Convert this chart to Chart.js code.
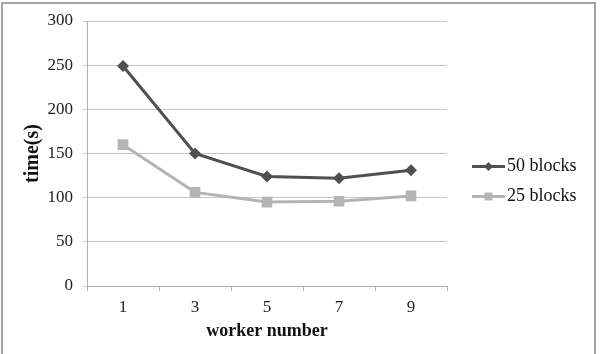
<!DOCTYPE html>
<html><head><meta charset="utf-8">
<script src="https://cdn.jsdelivr.net/npm/chart.js@4/dist/chart.umd.min.js"></script>
<style>
html,body{margin:0;padding:0;background:#fff;overflow:hidden}
#wrap{position:absolute;left:0;top:0;width:601px;height:354px;}
#frame{position:absolute;left:1px;top:2px;width:595px;height:370px;border:2px solid #a3a3a3;border-bottom:none;box-sizing:border-box;}
canvas{position:absolute;left:0;top:0}
</style></head><body>
<div id="wrap"><div id="frame"></div><canvas id="c" width="601" height="354"></canvas></div>
<script>
const categories = ['1', '3', '5', '7', '9'];
const blocks50 = [249, 150, 124, 122, 131];
const blocks25 = [160, 106, 95, 96, 102];
const seriesNames = ['50 blocks', '25 blocks'];
const yTicks = [0, 50, 100, 150, 200, 250, 300];

const FONT = "'Liberation Serif', 'Times New Roman', serif";
const DARK = '#505050';
const LIGHT = '#b4b4b4';

const legendPlugin = {
  id: 'sideLegend',
  afterDraw(chart) {
    const ctx = chart.ctx;
    const ca = chart.chartArea;
    const mid = (ca.top + ca.bottom) / 2;
    const x0 = ca.right + 25, x1 = x0 + 33;
    chart.data.datasets.forEach((ds, i) => {
      const y = mid + 13 + i * 30;
      ctx.save();
      ctx.strokeStyle = ds.borderColor;
      ctx.lineWidth = 3;
      ctx.beginPath(); ctx.moveTo(x0, y); ctx.lineTo(x1, y); ctx.stroke();
      ctx.fillStyle = ds.pointBackgroundColor;
      ctx.strokeStyle = ds.pointBorderColor;
      Chart.helpers.drawPoint(ctx, {pointStyle: ds.pointStyle, radius: ds.pointRadius * 0.75, borderWidth: 0, rotation: 0}, (x0 + x1) / 2, y);
      ctx.fillStyle = '#111';
      ctx.font = '18px ' + FONT;
      ctx.textBaseline = 'middle';
      ctx.textAlign = 'left';
      ctx.fillText(ds.label, x1 + 2, y);
      ctx.restore();
    });
  }
};

new Chart(document.getElementById('c'), {
  type: 'line',
  data: {
    labels: categories,
    datasets: [
      {label: seriesNames[0], data: blocks50, borderColor: DARK, backgroundColor: DARK,
       pointBackgroundColor: DARK, pointBorderColor: DARK, borderWidth: 3,
       pointStyle: 'rectRot', pointRadius: 6, pointBorderWidth: 0, tension: 0},
      {label: seriesNames[1], data: blocks25, borderColor: LIGHT, backgroundColor: LIGHT,
       pointBackgroundColor: LIGHT, pointBorderColor: LIGHT, borderWidth: 3,
       pointStyle: 'rect', pointRadius: 7.5, pointBorderWidth: 0, tension: 0}
    ]
  },
  options: {
    responsive: false,
    animation: false,
    layout: {padding: {left: 0, right: 154, top: 21, bottom: 0}},
    plugins: {legend: {display: false}, tooltip: {enabled: false}},
    scales: {
      x: {
        type: 'category', offset: true,
        grid: {offset: true, drawOnChartArea: false, drawTicks: true, tickLength: 5, color: '#b0b0b0'},
        border: {color: '#b0b0b0', width: 1},
        ticks: {color: '#222', font: {family: FONT, size: 17}, padding: 6},
        title: {display: true, text: 'worker number', color: '#111', font: {family: FONT, size: 18, weight: 'bold'}, padding: {top: 0, bottom: 12}},
        afterFit(s) { s.height = 68; }
      },
      y: {
        min: 0, max: 300,
        afterBuildTicks(s) { s.ticks = yTicks.map(v => ({value: v})); },
        grid: {color: '#c6c6c6', lineWidth: 1, tickLength: 4},
        border: {color: '#b0b0b0', width: 1},
        ticks: {color: '#222', font: {family: FONT, size: 17}, padding: 10},
        title: {display: true, text: 'time(s)', color: '#111', font: {family: FONT, size: 20, weight: 'bold'}, padding: {top: 21, bottom: 0}},
        afterFit(s) { s.width = 87; }
      }
    }
  },
  plugins: [legendPlugin]
});
</script>
</body></html>
